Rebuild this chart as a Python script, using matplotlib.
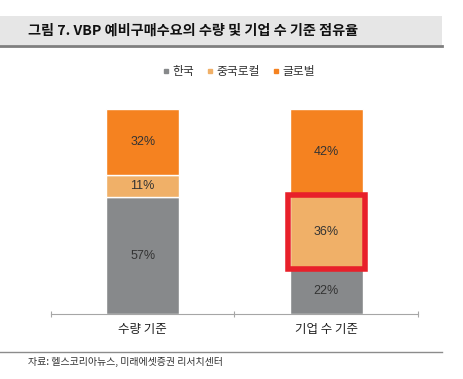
import matplotlib
matplotlib.use('Agg')

import matplotlib.pyplot as plt
from matplotlib.lines import Line2D
from matplotlib.patches import Rectangle
import numpy as np

plt.rcParams['font.family'] = ['Noto Sans CJK KR', 'DejaVu Sans']

categories = ['수량 기준', '기업 수 기준']
series_names = ['한국', '중국로컬', '글로벌']
korea = [57, 22]
china_local = [11, 36]
global_share = [32, 42]
title = '그림 7. VBP 예비구매수요의 수량 및 기업 수 기준 점유율'
source = '자료: 헬스코리아뉴스, 미래에셋증권 리서치센터'

colors = ['#87898b', '#f0b068', '#f58220']

W, H = 464, 379
fig = plt.figure(figsize=(W / 100, H / 100), dpi=100)

# title band
fig.patches.append(Rectangle((0, 1 - 45 / H), 442 / W, 29 / H, transform=fig.transFigure,
                             facecolor='#e6e6e6', edgecolor='none', zorder=0))
fig.add_artist(Line2D([0, 442 / W], [1 - 45.5 / H] * 2, color='#7f7f7f', lw=2))
fig.text(28 / W, 1 - 30.5 / H, title, fontsize=10.2, fontweight='bold', color='#111111',
         va='center', ha='left')

ax = fig.add_axes([51 / W, 1 - 314 / H, 367 / W, 205 / H])
x = np.arange(len(categories))
width = 0.4
series = [korea, china_local, global_share]
bottom = np.zeros(len(categories))
for vals, c in zip(series, colors):
    ax.bar(x, vals, width, bottom=bottom, color=c, edgecolor='white', linewidth=1)
    for xi, b, v in zip(x, bottom, vals):
        ax.text(xi, b + v / 2, f'{v}%', ha='center', va='center', fontsize=9,
                color='#333333', family='Liberation Sans')
    bottom += np.array(vals)

# red highlight box around china local on second bar
ax.add_patch(Rectangle((1 - width / 2 - 0.01, korea[1]), width + 0.02, china_local[1],
                       fill=False, edgecolor='#e8202a', linewidth=4, zorder=5))

ax.set_xlim(-0.5, 1.5)
ax.set_ylim(0, 100)
for s in ['top', 'right', 'left']:
    ax.spines[s].set_visible(False)
ax.spines['bottom'].set_color('#a6a6a6')
ax.set_yticks([])
ax.set_xticks([-0.5, 0.5, 1.5])
ax.set_xticklabels([])
ax.tick_params(axis='x', direction='inout', length=4, color='#a6a6a6')
for xi, cat in zip(x, categories):
    ax.text(xi, -7.5, cat, ha='center', va='center', fontsize=9, color='#222222')

handles = [Line2D([], [], marker='s', linestyle='none', markersize=3.5, color=c) for c in colors]
fig.legend(handles, series_names, loc='center', bbox_to_anchor=(238 / W, 1 - 72 / H), ncol=3,
           frameon=False, fontsize=8.5, handletextpad=0.1, columnspacing=1.0, handlelength=0.8,
           labelcolor='#333333')

fig.add_artist(Line2D([0, 442 / W], [1 - 352 / H] * 2, color='#8c8c8c', lw=1))
fig.text(28 / W, 1 - 362 / H, source, fontsize=7.2, color='#333333', va='center', ha='left')

fig.savefig('out.png', dpi=100)
